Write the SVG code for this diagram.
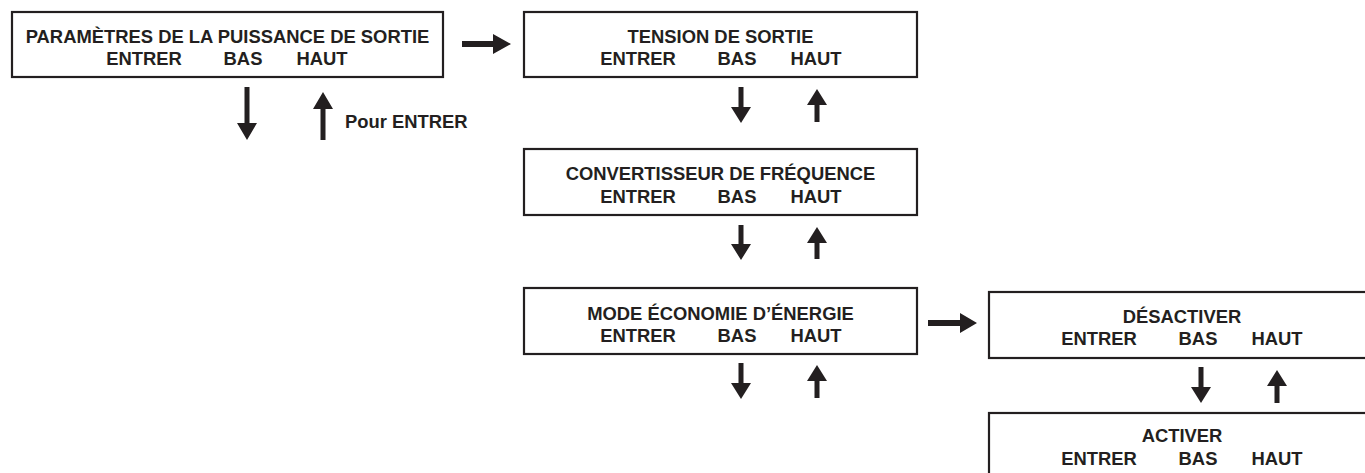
<svg xmlns="http://www.w3.org/2000/svg" width="1365" height="473" viewBox="0 0 1365 473">
<style>
.box{fill:#fff;stroke:#231f20;stroke-width:2.2}
.t{font-family:"Liberation Sans",Arial,sans-serif;font-weight:bold;font-size:18.4px;fill:#231f20;text-anchor:middle}
.l{text-anchor:start}
.ar{fill:#231f20;stroke:none}
</style>
<rect width="1365" height="473" fill="#fff"/>
<g id="node-puissance">
<rect class="box" x="12" y="12" width="431" height="65"/>
<text class="t" x="227.5" y="43">PARAMÈTRES DE LA PUISSANCE DE SORTIE</text>
<text class="t" y="65"><tspan x="144">ENTRER</tspan><tspan x="243">BAS</tspan><tspan x="322">HAUT</tspan></text>
</g>
<g id="node-tension">
<rect class="box" x="524" y="12" width="393" height="65"/>
<text class="t" x="720.5" y="43">TENSION DE SORTIE</text>
<text class="t" y="65"><tspan x="638">ENTRER</tspan><tspan x="737">BAS</tspan><tspan x="816">HAUT</tspan></text>
</g>
<g id="node-convertisseur">
<rect class="box" x="524" y="149" width="393" height="66"/>
<text class="t" x="720.5" y="180">CONVERTISSEUR DE FRÉQUENCE</text>
<text class="t" y="203"><tspan x="638">ENTRER</tspan><tspan x="737">BAS</tspan><tspan x="816">HAUT</tspan></text>
</g>
<g id="node-economie">
<rect class="box" x="524" y="288" width="393" height="66"/>
<text class="t" x="720.5" y="320">MODE ÉCONOMIE D’ÉNERGIE</text>
<text class="t" y="342"><tspan x="638">ENTRER</tspan><tspan x="737">BAS</tspan><tspan x="816">HAUT</tspan></text>
</g>
<g id="node-desactiver">
<rect class="box" x="989" y="292" width="400" height="66"/>
<text class="t" x="1182" y="323">DÉSACTIVER</text>
<text class="t" y="345"><tspan x="1099">ENTRER</tspan><tspan x="1198">BAS</tspan><tspan x="1277">HAUT</tspan></text>
</g>
<g id="node-activer">
<rect class="box" x="989" y="413" width="400" height="80"/>
<text class="t" x="1182" y="442">ACTIVER</text>
<text class="t" y="465"><tspan x="1099">ENTRER</tspan><tspan x="1198">BAS</tspan><tspan x="1277">HAUT</tspan></text>
</g>
<g id="connectors">
<path class="ar" d="M462 41 H493 V34 L511 44 L493 54 V47 H462 Z"/>
<path class="ar" d="M928 320 H960 V313 L977 323 L960 333 V326 H928 Z"/>
<path class="ar" d="M244.5 87 H249.5 V123 H257 L247 140 L237 123 H244.5 Z"/>
<path class="ar" d="M320.5 140 H325.5 V109 H333 L323 92 L313 109 H320.5 Z"/>
<path class="ar" d="M738.5 87 H743.5 V107 H751 L741 123 L731 107 H738.5 Z"/>
<path class="ar" d="M814.5 122 H819.5 V105 H827 L817 89 L807 105 H814.5 Z"/>
<path class="ar" d="M738.5 225 H743.5 V244 H751 L741 260 L731 244 H738.5 Z"/>
<path class="ar" d="M814.5 259 H819.5 V243 H827 L817 227 L807 243 H814.5 Z"/>
<path class="ar" d="M738.5 363 H743.5 V383 H751 L741 399 L731 383 H738.5 Z"/>
<path class="ar" d="M814.5 398 H819.5 V381 H827 L817 365 L807 381 H814.5 Z"/>
<path class="ar" d="M1198.5 367 H1203.5 V387 H1211 L1201 403 L1191 387 H1198.5 Z"/>
<path class="ar" d="M1274.5 403 H1279.5 V386 H1287 L1277 370 L1267 386 H1274.5 Z"/>
</g>
<text class="t l" x="345" y="128">Pour ENTRER</text>
</svg>
